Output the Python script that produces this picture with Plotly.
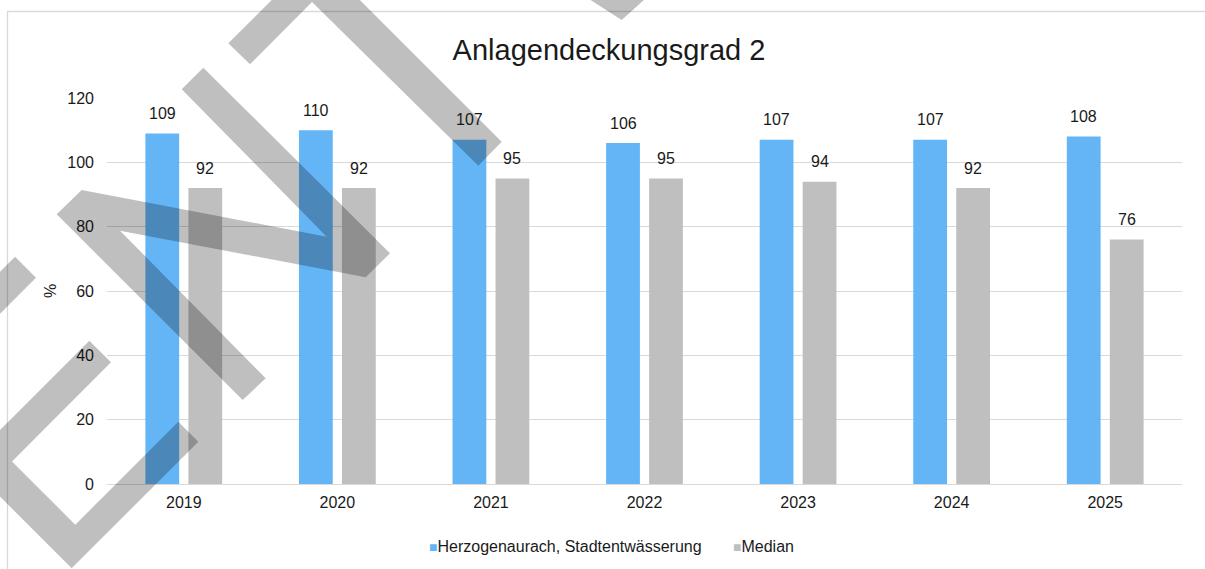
import plotly.graph_objects as go

years = ["2019", "2020", "2021", "2022", "2023", "2024", "2025"]
herzogenaurach = [109, 110, 107, 106, 107, 107, 108]
median = [92, 92, 95, 95, 94, 92, 76]
series_names = ["Herzogenaurach, Stadtentwässerung", "Median"]
y_ticks = [0, 20, 40, 60, 80, 100, 120]

W, H = 1205, 569
ML, MR, MT, MB = 107, 23, 98, 85
PW, PH = W - ML - MR, H - MT - MB

BLUE = "#64B5F6"
GREY = "#BFBFBF"
FONT = "Liberation Sans, Arial, sans-serif"
TXT = "#1a1a1a"
FS = 16


def px_x(px):
    return (px - ML) / PW


def px_y(py):
    return (H - MB - py) / PH


fig = go.Figure()
fig.add_trace(go.Bar(x=years, y=herzogenaurach, name=series_names[0],
                     marker=dict(color=BLUE, line=dict(width=0)),
                     width=0.22, offset=-0.25))
fig.add_trace(go.Bar(x=years, y=median, name=series_names[1],
                     marker=dict(color=GREY, line=dict(width=0)),
                     width=0.22, offset=0.03))

annotations = []
for i, v in enumerate(herzogenaurach):
    annotations.append(dict(x=i - 0.14, y=v, xref="x", yref="y", text=str(v), showarrow=False,
                            xanchor="center", yanchor="middle", yshift=20,
                            font=dict(size=FS, color=TXT, family=FONT)))
for i, v in enumerate(median):
    annotations.append(dict(x=i + 0.14, y=v, xref="x", yref="y", text=str(v), showarrow=False,
                            xanchor="center", yanchor="middle", yshift=20,
                            font=dict(size=FS, color=TXT, family=FONT)))
annotations.append(dict(x=px_x(50), y=0.5, xref="paper", yref="paper", text="%",
                        xanchor="center", yanchor="middle",
                        textangle=-90, showarrow=False, font=dict(size=FS, color=TXT, family=FONT)))
# legend (as text with coloured square markers)
for name, col, lx in [(series_names[0], BLUE, 427), (series_names[1], GREY, 731)]:
    annotations.append(dict(
        x=px_x(lx), y=px_y(546), xref="paper", yref="paper", xanchor="left", yanchor="middle",
        showarrow=False,
        text=f"<span style='color:{col};font-size:14px'>■</span>{name}",
        font=dict(size=FS, color=TXT, family=FONT)))


def px_path(pts, close=True):
    s = []
    for i, (px, py) in enumerate(pts):
        s.append(("M" if i == 0 else "L") + f"{px_x(px):.5f},{px_y(py):.5f}")
    return " ".join(s) + (" Z" if close else "")


watermark = [
    [(228.3, 43.3), (315.8, -44), (501.7, 141.7), (478.3, 165.7), (312, 2), (250, 64.3)],
    [(575, -10), (621.7, 20), (655, -10)],
    [(181.7, 89.3), (203.3, 67.7), (390, 253.3), (365.7, 277.3), (120, 230.7),
     (265.7, 378.3), (242.7, 400), (56.7, 214.3), (81.7, 190), (326.7, 236.7)],
    [(15, 256.7), (36, 277.7), (-10, 323.7), (-10, 281.7)],
    [(89.3, 340.7), (111, 362.3), (12, 461.4), (75.3, 524.7), (178.3, 421.7),
     (198.3, 441.7), (71.7, 568.3), (-33.3, 463.3)],
]
shapes = []
shapes.append(dict(type="path", xref="paper", yref="paper", layer="below",
                   path=px_path([(7.5, 700), (7.5, 11.5), (1300, 11.5)], close=False),
                   line=dict(color="#D9D9D9", width=1.3)))
for poly in watermark:
    shapes.append(dict(type="path", xref="paper", yref="paper", layer="above",
                       path=px_path(poly), fillcolor="rgba(0,0,0,0.25)",
                       line=dict(width=0)))

fig.update_layout(
    width=W, height=H,
    margin=dict(l=ML, r=MR, t=MT, b=MB, pad=0),
    paper_bgcolor="white", plot_bgcolor="white",
    font=dict(family=FONT, size=FS, color=TXT),
    title=dict(text="Anlagendeckungsgrad 2", x=609 / W, xanchor="center", xref="container",
               y=1 - 50 / H, yanchor="middle", yref="container",
               font=dict(size=29, color=TXT, family=FONT)),
    barmode="group",
    showlegend=False,
    xaxis=dict(type="category", range=[-0.5, 6.5], autorange=False, showgrid=False,
               showline=True, linecolor="#D9D9D9",
               linewidth=1.3, ticks="", ticklabelstandoff=4,
               tickfont=dict(size=FS, color=TXT, family=FONT)),
    yaxis=dict(range=[0, 120], autorange=False, tickvals=y_ticks, showgrid=True,
               gridcolor="#D9D9D9", gridwidth=1.3, zeroline=False, showline=False,
               ticks="", ticklabelstandoff=12,
               tickfont=dict(size=FS, color=TXT, family=FONT)),
    annotations=annotations,
    shapes=shapes,
)

fig.write_html("out.html", config={"displayModeBar": False},
               post_script="document.body.style.margin='0';")
